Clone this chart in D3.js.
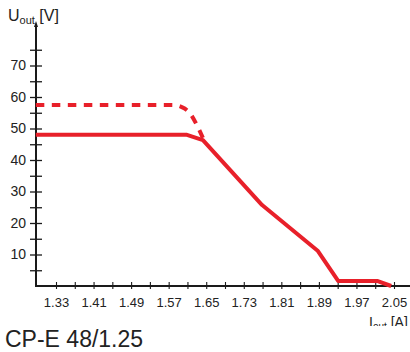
<!DOCTYPE html>
<html>
<head>
<meta charset="utf-8">
<script src="https://cdn.jsdelivr.net/npm/d3@7"></script>
<style>
  html, body { margin: 0; padding: 0; background: #fff; }
  svg { display: block; font-family: "Liberation Sans", Arial, sans-serif; }
</style>
</head>
<body>
<svg id="chart" width="410" height="352"></svg>
<script>
// ---- data ----
const solidI = [1.287, 1.609, 1.643, 1.769, 1.888, 1.931, 2.014, 2.044];
const solidU = [48, 48, 46.3, 25.7, 11.1, 1.6, 1.6, 0];
const dashedI = [1.287, 1.577, 1.598, 1.615, 1.630, 1.645];
const dashedU = [57.5, 57.5, 56.8, 54.9, 51.1, 46.3];
const yTickValues = [5, 10, 15, 20, 25, 30, 35, 40, 45, 50, 55, 60, 65, 70, 75];
const yTickLabels = [10, 20, 30, 40, 50, 60, 70];
const xTickValues = [1.33, 1.37, 1.41, 1.45, 1.49, 1.53, 1.57, 1.61, 1.65, 1.69, 1.73, 1.77, 1.81, 1.85, 1.89, 1.93, 1.97, 2.01, 2.05];
const xTickLabels = ["1.33", "1.41", "1.49", "1.57", "1.65", "1.73", "1.81", "1.89", "1.97", "2.05"];
const caption = "CP-E 48/1.25";

const svg = d3.select("#chart");
const x = d3.scaleLinear().domain([1.33, 2.05]).range([56, 394]);
const y = d3.scaleLinear().domain([0, 75]).range([286, 49.75]);
const x0 = 36, y0 = 286;
const axisColor = "#1a1a1a", textColor = "#222", red = "#e8202a";

// y axis
const yAxis = d3.axisLeft(y).tickValues(yTickValues).tickSize(6)
  .tickFormat(d => yTickLabels.includes(d) ? d : "");
const gy = svg.append("g").attr("transform", `translate(${x0},0)`).call(yAxis);
gy.select(".domain").remove();
gy.selectAll(".tick line").attr("x1", -6).attr("x2", 6).attr("stroke", axisColor).attr("stroke-width", 1.3);
gy.selectAll(".tick text").attr("x", -10).attr("fill", textColor)
  .style("font-size", "14px").style("font-family", "Liberation Sans, Arial, sans-serif");

// x axis
const xAxis = d3.axisBottom(x).tickValues(xTickValues).tickSize(4)
  .tickFormat(d => { const s = d.toFixed(2); return xTickLabels.includes(s) ? s : ""; });
const gx = svg.append("g").attr("transform", `translate(0,${y0})`).call(xAxis);
gx.select(".domain").remove();
gx.selectAll(".tick line").attr("y1", -4).attr("y2", 3).attr("stroke", axisColor).attr("stroke-width", 1.1);
gx.selectAll(".tick text").attr("y", 12).attr("fill", textColor)
  .style("font-size", "13px").style("font-family", "Liberation Sans, Arial, sans-serif");

// axis lines
svg.append("line").attr("x1", x0).attr("x2", x0).attr("y1", 24).attr("y2", y0 + 1)
  .attr("stroke", axisColor).attr("stroke-width", 2);
svg.append("line").attr("x1", x0 - 1).attr("x2", 410).attr("y1", y0).attr("y2", y0)
  .attr("stroke", axisColor).attr("stroke-width", 2);
svg.append("path").attr("d", `M${x0 - 2},27 L${x0},21 L${x0 + 2},27 Z`).attr("fill", axisColor);

// curves
const solidData = solidI.map((v, i) => [v, solidU[i]]);
const dashedData = dashedI.map((v, i) => [v, dashedU[i]]);
const lineLin = d3.line().x(d => x(d[0])).y(d => y(d[1]));
const lineCurve = d3.line().x(d => x(d[0])).y(d => y(d[1])).curve(d3.curveMonotoneX);

svg.append("path").datum(dashedData).attr("d", lineCurve).attr("fill", "none")
  .attr("stroke", red).attr("stroke-width", 4).attr("stroke-dasharray", "8.5,7.5");
svg.append("path").datum(solidData).attr("d", lineLin).attr("fill", "none")
  .attr("stroke", red).attr("stroke-width", 4).attr("stroke-linejoin", "round");

// axis titles
const yt = svg.append("text").attr("x", 8).attr("y", 21).attr("fill", textColor)
  .style("font-size", "16px");
yt.append("tspan").text("U");
yt.append("tspan").attr("dy", 3).style("font-size", "11px").text("out");
yt.append("tspan").attr("dy", -3).text(" [V]");

svg.append("clipPath").attr("id", "clipx").append("rect").attr("x", 0).attr("y", 0).attr("width", 410).attr("height", 326);
const xt = svg.append("text").attr("x", 369).attr("y", 327).attr("fill", textColor)
  .attr("clip-path", "url(#clipx)").style("font-size", "14px");
xt.append("tspan").text("I");
xt.append("tspan").attr("dy", 3).style("font-size", "10px").text("out");
xt.append("tspan").attr("dy", -3).text(" [A]");

// caption
svg.append("text").attr("x", 5).attr("y", 347).attr("fill", textColor)
  .style("font-size", "23px").text(caption);
</script>
</body>
</html>
